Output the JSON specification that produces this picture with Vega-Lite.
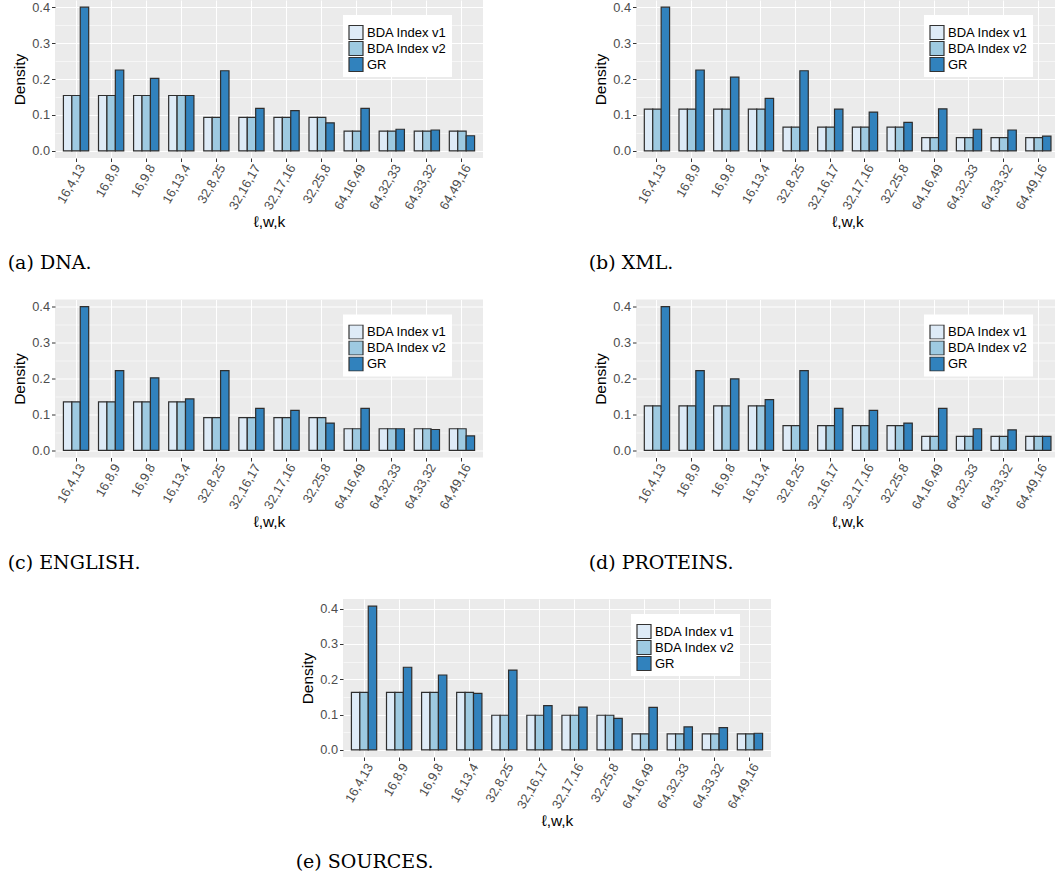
{
  "$schema": "https://vega.github.io/schema/vega-lite/v6.json",
  "padding": {"left": 7, "top": 0, "right": 0, "bottom": 0},
  "config": {
    "font": "Liberation Sans",
    "view": {"fill": "#EBEBEB", "stroke": null},
    "bar": {"stroke": "#2E2E2E", "strokeWidth": 1.2},
    "axis": {"domain": false, "grid": true, "gridColor": "#FFFFFF", "tickColor": "#333333", "tickSize": 3.5, "labelColor": "#4D4D4D", "labelFontSize": 12.8, "labelFont": "Liberation Sans", "titleFont": "Liberation Sans", "titleFontSize": 15.5, "titleFontWeight": "normal", "titleColor": "#000000", "labelPadding": 2},
    "axisX": {"labelAngle": -60, "labelAlign": "right", "labelBaseline": "middle", "bandPosition": 0.5, "gridWidth": 1.1, "titlePadding": 3, "labelOffset": 6, "labelPadding": 3.5, "labelOverlap": false, "labelFlush": false},
    "axisY": {"titlePadding": 4},
    "legend": {"orient": "none", "legendX": 288, "legendY": 15, "fillColor": "#FFFFFF", "padding": 5, "symbolType": "square", "symbolSize": 196, "symbolStrokeColor": "#333333", "symbolStrokeWidth": 1, "symbolOpacity": 1, "labelFontSize": 13, "labelColor": "#000000", "labelFont": "Liberation Sans", "rowPadding": 1, "clipHeight": 15, "labelOffset": 3, "titleFontSize": 4, "titlePadding": 1},
    "title": {"orient": "bottom", "anchor": "start", "font": "DejaVu Serif", "fontSize": 19, "fontWeight": "normal", "color": "#000000", "offset": 24, "dx": -5}
  },
  "datasets": {
    "dna": [
      {"cfg": "16,4,13", "method": "BDA Index v1", "density": 0.154}, {"cfg": "16,4,13", "method": "BDA Index v2", "density": 0.154}, {"cfg": "16,4,13", "method": "GR", "density": 0.400},
      {"cfg": "16,8,9", "method": "BDA Index v1", "density": 0.154}, {"cfg": "16,8,9", "method": "BDA Index v2", "density": 0.154}, {"cfg": "16,8,9", "method": "GR", "density": 0.225},
      {"cfg": "16,9,8", "method": "BDA Index v1", "density": 0.154}, {"cfg": "16,9,8", "method": "BDA Index v2", "density": 0.154}, {"cfg": "16,9,8", "method": "GR", "density": 0.202},
      {"cfg": "16,13,4", "method": "BDA Index v1", "density": 0.154}, {"cfg": "16,13,4", "method": "BDA Index v2", "density": 0.154}, {"cfg": "16,13,4", "method": "GR", "density": 0.154},
      {"cfg": "32,8,25", "method": "BDA Index v1", "density": 0.093}, {"cfg": "32,8,25", "method": "BDA Index v2", "density": 0.093}, {"cfg": "32,8,25", "method": "GR", "density": 0.223},
      {"cfg": "32,16,17", "method": "BDA Index v1", "density": 0.093}, {"cfg": "32,16,17", "method": "BDA Index v2", "density": 0.093}, {"cfg": "32,16,17", "method": "GR", "density": 0.118},
      {"cfg": "32,17,16", "method": "BDA Index v1", "density": 0.093}, {"cfg": "32,17,16", "method": "BDA Index v2", "density": 0.093}, {"cfg": "32,17,16", "method": "GR", "density": 0.112},
      {"cfg": "32,25,8", "method": "BDA Index v1", "density": 0.093}, {"cfg": "32,25,8", "method": "BDA Index v2", "density": 0.093}, {"cfg": "32,25,8", "method": "GR", "density": 0.078},
      {"cfg": "64,16,49", "method": "BDA Index v1", "density": 0.055}, {"cfg": "64,16,49", "method": "BDA Index v2", "density": 0.055}, {"cfg": "64,16,49", "method": "GR", "density": 0.118},
      {"cfg": "64,32,33", "method": "BDA Index v1", "density": 0.055}, {"cfg": "64,32,33", "method": "BDA Index v2", "density": 0.055}, {"cfg": "64,32,33", "method": "GR", "density": 0.060},
      {"cfg": "64,33,32", "method": "BDA Index v1", "density": 0.055}, {"cfg": "64,33,32", "method": "BDA Index v2", "density": 0.055}, {"cfg": "64,33,32", "method": "GR", "density": 0.058},
      {"cfg": "64,49,16", "method": "BDA Index v1", "density": 0.055}, {"cfg": "64,49,16", "method": "BDA Index v2", "density": 0.055}, {"cfg": "64,49,16", "method": "GR", "density": 0.042}
    ],
    "xml": [
      {"cfg": "16,4,13", "method": "BDA Index v1", "density": 0.116}, {"cfg": "16,4,13", "method": "BDA Index v2", "density": 0.116}, {"cfg": "16,4,13", "method": "GR", "density": 0.400},
      {"cfg": "16,8,9", "method": "BDA Index v1", "density": 0.116}, {"cfg": "16,8,9", "method": "BDA Index v2", "density": 0.116}, {"cfg": "16,8,9", "method": "GR", "density": 0.225},
      {"cfg": "16,9,8", "method": "BDA Index v1", "density": 0.116}, {"cfg": "16,9,8", "method": "BDA Index v2", "density": 0.116}, {"cfg": "16,9,8", "method": "GR", "density": 0.205},
      {"cfg": "16,13,4", "method": "BDA Index v1", "density": 0.116}, {"cfg": "16,13,4", "method": "BDA Index v2", "density": 0.116}, {"cfg": "16,13,4", "method": "GR", "density": 0.146},
      {"cfg": "32,8,25", "method": "BDA Index v1", "density": 0.066}, {"cfg": "32,8,25", "method": "BDA Index v2", "density": 0.066}, {"cfg": "32,8,25", "method": "GR", "density": 0.223},
      {"cfg": "32,16,17", "method": "BDA Index v1", "density": 0.066}, {"cfg": "32,16,17", "method": "BDA Index v2", "density": 0.066}, {"cfg": "32,16,17", "method": "GR", "density": 0.116},
      {"cfg": "32,17,16", "method": "BDA Index v1", "density": 0.066}, {"cfg": "32,17,16", "method": "BDA Index v2", "density": 0.066}, {"cfg": "32,17,16", "method": "GR", "density": 0.108},
      {"cfg": "32,25,8", "method": "BDA Index v1", "density": 0.066}, {"cfg": "32,25,8", "method": "BDA Index v2", "density": 0.066}, {"cfg": "32,25,8", "method": "GR", "density": 0.079},
      {"cfg": "64,16,49", "method": "BDA Index v1", "density": 0.037}, {"cfg": "64,16,49", "method": "BDA Index v2", "density": 0.037}, {"cfg": "64,16,49", "method": "GR", "density": 0.117},
      {"cfg": "64,32,33", "method": "BDA Index v1", "density": 0.037}, {"cfg": "64,32,33", "method": "BDA Index v2", "density": 0.037}, {"cfg": "64,32,33", "method": "GR", "density": 0.060},
      {"cfg": "64,33,32", "method": "BDA Index v1", "density": 0.037}, {"cfg": "64,33,32", "method": "BDA Index v2", "density": 0.037}, {"cfg": "64,33,32", "method": "GR", "density": 0.058},
      {"cfg": "64,49,16", "method": "BDA Index v1", "density": 0.037}, {"cfg": "64,49,16", "method": "BDA Index v2", "density": 0.037}, {"cfg": "64,49,16", "method": "GR", "density": 0.041}
    ],
    "english": [
      {"cfg": "16,4,13", "method": "BDA Index v1", "density": 0.135}, {"cfg": "16,4,13", "method": "BDA Index v2", "density": 0.135}, {"cfg": "16,4,13", "method": "GR", "density": 0.400},
      {"cfg": "16,8,9", "method": "BDA Index v1", "density": 0.135}, {"cfg": "16,8,9", "method": "BDA Index v2", "density": 0.135}, {"cfg": "16,8,9", "method": "GR", "density": 0.222},
      {"cfg": "16,9,8", "method": "BDA Index v1", "density": 0.135}, {"cfg": "16,9,8", "method": "BDA Index v2", "density": 0.135}, {"cfg": "16,9,8", "method": "GR", "density": 0.202},
      {"cfg": "16,13,4", "method": "BDA Index v1", "density": 0.135}, {"cfg": "16,13,4", "method": "BDA Index v2", "density": 0.135}, {"cfg": "16,13,4", "method": "GR", "density": 0.143},
      {"cfg": "32,8,25", "method": "BDA Index v1", "density": 0.091}, {"cfg": "32,8,25", "method": "BDA Index v2", "density": 0.091}, {"cfg": "32,8,25", "method": "GR", "density": 0.222},
      {"cfg": "32,16,17", "method": "BDA Index v1", "density": 0.091}, {"cfg": "32,16,17", "method": "BDA Index v2", "density": 0.091}, {"cfg": "32,16,17", "method": "GR", "density": 0.117},
      {"cfg": "32,17,16", "method": "BDA Index v1", "density": 0.091}, {"cfg": "32,17,16", "method": "BDA Index v2", "density": 0.091}, {"cfg": "32,17,16", "method": "GR", "density": 0.111},
      {"cfg": "32,25,8", "method": "BDA Index v1", "density": 0.091}, {"cfg": "32,25,8", "method": "BDA Index v2", "density": 0.091}, {"cfg": "32,25,8", "method": "GR", "density": 0.076},
      {"cfg": "64,16,49", "method": "BDA Index v1", "density": 0.060}, {"cfg": "64,16,49", "method": "BDA Index v2", "density": 0.060}, {"cfg": "64,16,49", "method": "GR", "density": 0.117},
      {"cfg": "64,32,33", "method": "BDA Index v1", "density": 0.060}, {"cfg": "64,32,33", "method": "BDA Index v2", "density": 0.060}, {"cfg": "64,32,33", "method": "GR", "density": 0.060},
      {"cfg": "64,33,32", "method": "BDA Index v1", "density": 0.060}, {"cfg": "64,33,32", "method": "BDA Index v2", "density": 0.060}, {"cfg": "64,33,32", "method": "GR", "density": 0.058},
      {"cfg": "64,49,16", "method": "BDA Index v1", "density": 0.060}, {"cfg": "64,49,16", "method": "BDA Index v2", "density": 0.060}, {"cfg": "64,49,16", "method": "GR", "density": 0.040}
    ],
    "proteins": [
      {"cfg": "16,4,13", "method": "BDA Index v1", "density": 0.124}, {"cfg": "16,4,13", "method": "BDA Index v2", "density": 0.124}, {"cfg": "16,4,13", "method": "GR", "density": 0.400},
      {"cfg": "16,8,9", "method": "BDA Index v1", "density": 0.124}, {"cfg": "16,8,9", "method": "BDA Index v2", "density": 0.124}, {"cfg": "16,8,9", "method": "GR", "density": 0.222},
      {"cfg": "16,9,8", "method": "BDA Index v1", "density": 0.124}, {"cfg": "16,9,8", "method": "BDA Index v2", "density": 0.124}, {"cfg": "16,9,8", "method": "GR", "density": 0.199},
      {"cfg": "16,13,4", "method": "BDA Index v1", "density": 0.124}, {"cfg": "16,13,4", "method": "BDA Index v2", "density": 0.124}, {"cfg": "16,13,4", "method": "GR", "density": 0.141},
      {"cfg": "32,8,25", "method": "BDA Index v1", "density": 0.069}, {"cfg": "32,8,25", "method": "BDA Index v2", "density": 0.069}, {"cfg": "32,8,25", "method": "GR", "density": 0.222},
      {"cfg": "32,16,17", "method": "BDA Index v1", "density": 0.069}, {"cfg": "32,16,17", "method": "BDA Index v2", "density": 0.069}, {"cfg": "32,16,17", "method": "GR", "density": 0.117},
      {"cfg": "32,17,16", "method": "BDA Index v1", "density": 0.069}, {"cfg": "32,17,16", "method": "BDA Index v2", "density": 0.069}, {"cfg": "32,17,16", "method": "GR", "density": 0.111},
      {"cfg": "32,25,8", "method": "BDA Index v1", "density": 0.069}, {"cfg": "32,25,8", "method": "BDA Index v2", "density": 0.069}, {"cfg": "32,25,8", "method": "GR", "density": 0.076},
      {"cfg": "64,16,49", "method": "BDA Index v1", "density": 0.039}, {"cfg": "64,16,49", "method": "BDA Index v2", "density": 0.039}, {"cfg": "64,16,49", "method": "GR", "density": 0.117},
      {"cfg": "64,32,33", "method": "BDA Index v1", "density": 0.039}, {"cfg": "64,32,33", "method": "BDA Index v2", "density": 0.039}, {"cfg": "64,32,33", "method": "GR", "density": 0.060},
      {"cfg": "64,33,32", "method": "BDA Index v1", "density": 0.039}, {"cfg": "64,33,32", "method": "BDA Index v2", "density": 0.039}, {"cfg": "64,33,32", "method": "GR", "density": 0.057},
      {"cfg": "64,49,16", "method": "BDA Index v1", "density": 0.039}, {"cfg": "64,49,16", "method": "BDA Index v2", "density": 0.039}, {"cfg": "64,49,16", "method": "GR", "density": 0.039}
    ],
    "sources": [
      {"cfg": "16,4,13", "method": "BDA Index v1", "density": 0.163}, {"cfg": "16,4,13", "method": "BDA Index v2", "density": 0.163}, {"cfg": "16,4,13", "method": "GR", "density": 0.407},
      {"cfg": "16,8,9", "method": "BDA Index v1", "density": 0.163}, {"cfg": "16,8,9", "method": "BDA Index v2", "density": 0.163}, {"cfg": "16,8,9", "method": "GR", "density": 0.234},
      {"cfg": "16,9,8", "method": "BDA Index v1", "density": 0.163}, {"cfg": "16,9,8", "method": "BDA Index v2", "density": 0.163}, {"cfg": "16,9,8", "method": "GR", "density": 0.212},
      {"cfg": "16,13,4", "method": "BDA Index v1", "density": 0.163}, {"cfg": "16,13,4", "method": "BDA Index v2", "density": 0.163}, {"cfg": "16,13,4", "method": "GR", "density": 0.160},
      {"cfg": "32,8,25", "method": "BDA Index v1", "density": 0.098}, {"cfg": "32,8,25", "method": "BDA Index v2", "density": 0.098}, {"cfg": "32,8,25", "method": "GR", "density": 0.226},
      {"cfg": "32,16,17", "method": "BDA Index v1", "density": 0.098}, {"cfg": "32,16,17", "method": "BDA Index v2", "density": 0.098}, {"cfg": "32,16,17", "method": "GR", "density": 0.125},
      {"cfg": "32,17,16", "method": "BDA Index v1", "density": 0.098}, {"cfg": "32,17,16", "method": "BDA Index v2", "density": 0.098}, {"cfg": "32,17,16", "method": "GR", "density": 0.121},
      {"cfg": "32,25,8", "method": "BDA Index v1", "density": 0.098}, {"cfg": "32,25,8", "method": "BDA Index v2", "density": 0.098}, {"cfg": "32,25,8", "method": "GR", "density": 0.089},
      {"cfg": "64,16,49", "method": "BDA Index v1", "density": 0.045}, {"cfg": "64,16,49", "method": "BDA Index v2", "density": 0.045}, {"cfg": "64,16,49", "method": "GR", "density": 0.120},
      {"cfg": "64,32,33", "method": "BDA Index v1", "density": 0.045}, {"cfg": "64,32,33", "method": "BDA Index v2", "density": 0.045}, {"cfg": "64,32,33", "method": "GR", "density": 0.065},
      {"cfg": "64,33,32", "method": "BDA Index v1", "density": 0.045}, {"cfg": "64,33,32", "method": "BDA Index v2", "density": 0.045}, {"cfg": "64,33,32", "method": "GR", "density": 0.063},
      {"cfg": "64,49,16", "method": "BDA Index v1", "density": 0.045}, {"cfg": "64,49,16", "method": "BDA Index v2", "density": 0.045}, {"cfg": "64,49,16", "method": "GR", "density": 0.047}
    ]
  },
  "center": true,
  "spacing": 25.5,
  "resolve": {"scale": {"color": "independent"}, "legend": {"color": "independent"}},
  "vconcat": [
    {
      "spacing": 105,
      "resolve": {"scale": {"color": "independent"}, "legend": {"color": "independent"}},
      "hconcat": [
        {
          "data": {"name": "dna"}, "width": 428, "height": 158,
          "title": {"text": "(a) DNA."},
          "mark": {"type": "bar"},
          "encoding": {
            "x": {"field": "cfg", "type": "nominal", "sort": null, "scale": {"paddingInner": 0.28, "paddingOuter": 0.24}, "axis": {"title": "ℓ,w,k"}},
            "xOffset": {"field": "method", "type": "nominal", "sort": null, "scale": {"paddingInner": 0, "paddingOuter": 0}},
            "y": {"field": "density", "type": "quantitative", "scale": {"domain": [-0.02, 0.42], "nice": false, "zero": false},
                  "axis": {"title": "Density", "values": [0, 0.05, 0.1, 0.15, 0.2, 0.25, 0.3, 0.35, 0.4],
                           "labelExpr": "abs(datum.value*10 - round(datum.value*10)) < 0.001 ? format(datum.value, '.1f') : ''",
                           "gridWidth": {"condition": {"test": "abs(datum.value*10 - round(datum.value*10)) < 0.001", "value": 1.1}, "value": 0.55},
                           "tickOpacity": {"condition": {"test": "abs(datum.value*10 - round(datum.value*10)) < 0.001", "value": 1}, "value": 0}}},
            "y2": {"datum": 0},
            "color": {"field": "method", "type": "nominal", "sort": null, "scale": {"domain": ["BDA Index v1", "BDA Index v2", "GR"], "range": ["#DEEBF7", "#9ECAE1", "#3182BD"]}, "legend": {"title": " "}}
          }
        },
        {
          "data": {"name": "xml"}, "width": 423, "height": 158,
          "title": {"text": "(b) XML."},
          "mark": {"type": "bar"},
          "encoding": {
            "x": {"field": "cfg", "type": "nominal", "sort": null, "scale": {"paddingInner": 0.28, "paddingOuter": 0.24}, "axis": {"title": "ℓ,w,k"}},
            "xOffset": {"field": "method", "type": "nominal", "sort": null, "scale": {"paddingInner": 0, "paddingOuter": 0}},
            "y": {"field": "density", "type": "quantitative", "scale": {"domain": [-0.02, 0.42], "nice": false, "zero": false},
                  "axis": {"title": "Density", "values": [0, 0.05, 0.1, 0.15, 0.2, 0.25, 0.3, 0.35, 0.4],
                           "labelExpr": "abs(datum.value*10 - round(datum.value*10)) < 0.001 ? format(datum.value, '.1f') : ''",
                           "gridWidth": {"condition": {"test": "abs(datum.value*10 - round(datum.value*10)) < 0.001", "value": 1.1}, "value": 0.55},
                           "tickOpacity": {"condition": {"test": "abs(datum.value*10 - round(datum.value*10)) < 0.001", "value": 1}, "value": 0}}},
            "y2": {"datum": 0},
            "color": {"field": "method", "type": "nominal", "sort": null, "scale": {"domain": ["BDA Index v1", "BDA Index v2", "GR"], "range": ["#DEEBF7", "#9ECAE1", "#3182BD"]}, "legend": {"title": " "}}
          }
        }
      ]
    },
    {
      "spacing": 105,
      "resolve": {"scale": {"color": "independent"}, "legend": {"color": "independent"}},
      "hconcat": [
        {
          "data": {"name": "english"}, "width": 428, "height": 158,
          "title": {"text": "(c) ENGLISH."},
          "mark": {"type": "bar"},
          "encoding": {
            "x": {"field": "cfg", "type": "nominal", "sort": null, "scale": {"paddingInner": 0.28, "paddingOuter": 0.24}, "axis": {"title": "ℓ,w,k"}},
            "xOffset": {"field": "method", "type": "nominal", "sort": null, "scale": {"paddingInner": 0, "paddingOuter": 0}},
            "y": {"field": "density", "type": "quantitative", "scale": {"domain": [-0.02, 0.42], "nice": false, "zero": false},
                  "axis": {"title": "Density", "values": [0, 0.05, 0.1, 0.15, 0.2, 0.25, 0.3, 0.35, 0.4],
                           "labelExpr": "abs(datum.value*10 - round(datum.value*10)) < 0.001 ? format(datum.value, '.1f') : ''",
                           "gridWidth": {"condition": {"test": "abs(datum.value*10 - round(datum.value*10)) < 0.001", "value": 1.1}, "value": 0.55},
                           "tickOpacity": {"condition": {"test": "abs(datum.value*10 - round(datum.value*10)) < 0.001", "value": 1}, "value": 0}}},
            "y2": {"datum": 0},
            "color": {"field": "method", "type": "nominal", "sort": null, "scale": {"domain": ["BDA Index v1", "BDA Index v2", "GR"], "range": ["#DEEBF7", "#9ECAE1", "#3182BD"]}, "legend": {"title": " "}}
          }
        },
        {
          "data": {"name": "proteins"}, "width": 423, "height": 158,
          "title": {"text": "(d) PROTEINS."},
          "mark": {"type": "bar"},
          "encoding": {
            "x": {"field": "cfg", "type": "nominal", "sort": null, "scale": {"paddingInner": 0.28, "paddingOuter": 0.24}, "axis": {"title": "ℓ,w,k"}},
            "xOffset": {"field": "method", "type": "nominal", "sort": null, "scale": {"paddingInner": 0, "paddingOuter": 0}},
            "y": {"field": "density", "type": "quantitative", "scale": {"domain": [-0.02, 0.42], "nice": false, "zero": false},
                  "axis": {"title": "Density", "values": [0, 0.05, 0.1, 0.15, 0.2, 0.25, 0.3, 0.35, 0.4],
                           "labelExpr": "abs(datum.value*10 - round(datum.value*10)) < 0.001 ? format(datum.value, '.1f') : ''",
                           "gridWidth": {"condition": {"test": "abs(datum.value*10 - round(datum.value*10)) < 0.001", "value": 1.1}, "value": 0.55},
                           "tickOpacity": {"condition": {"test": "abs(datum.value*10 - round(datum.value*10)) < 0.001", "value": 1}, "value": 0}}},
            "y2": {"datum": 0},
            "color": {"field": "method", "type": "nominal", "sort": null, "scale": {"domain": ["BDA Index v1", "BDA Index v2", "GR"], "range": ["#DEEBF7", "#9ECAE1", "#3182BD"]}, "legend": {"title": " "}}
          }
        }
      ]
    },
    {
      "data": {"name": "sources"}, "width": 428, "height": 158,
      "title": {"text": "(e) SOURCES."},
      "mark": {"type": "bar"},
      "encoding": {
        "x": {"field": "cfg", "type": "nominal", "sort": null, "scale": {"paddingInner": 0.28, "paddingOuter": 0.24}, "axis": {"title": "ℓ,w,k"}},
        "xOffset": {"field": "method", "type": "nominal", "sort": null, "scale": {"paddingInner": 0, "paddingOuter": 0}},
        "y": {"field": "density", "type": "quantitative", "scale": {"domain": [-0.02035, 0.42735], "nice": false, "zero": false},
              "axis": {"title": "Density", "values": [0, 0.05, 0.1, 0.15, 0.2, 0.25, 0.3, 0.35, 0.4],
                       "labelExpr": "abs(datum.value*10 - round(datum.value*10)) < 0.001 ? format(datum.value, '.1f') : ''",
                       "gridWidth": {"condition": {"test": "abs(datum.value*10 - round(datum.value*10)) < 0.001", "value": 1.1}, "value": 0.55},
                       "tickOpacity": {"condition": {"test": "abs(datum.value*10 - round(datum.value*10)) < 0.001", "value": 1}, "value": 0}}},
        "y2": {"datum": 0},
        "color": {"field": "method", "type": "nominal", "sort": null, "scale": {"domain": ["BDA Index v1", "BDA Index v2", "GR"], "range": ["#DEEBF7", "#9ECAE1", "#3182BD"]}, "legend": {"title": " "}}
      }
    }
  ]
}
